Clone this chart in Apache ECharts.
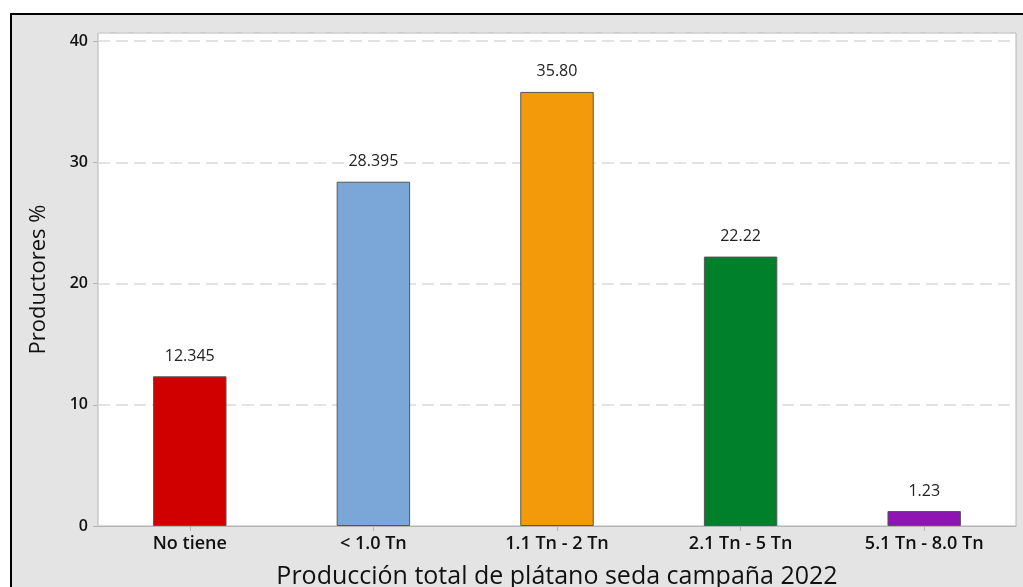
<!DOCTYPE html>
<html>
<head>
<meta charset="utf-8">
<script src="https://cdn.jsdelivr.net/npm/echarts@6/dist/echarts.min.js"></script>
<style>
html,body{margin:0;padding:0;background:#fff;overflow:hidden;}
#wrap{position:absolute;left:0;top:0;width:1023px;height:587px;overflow:hidden;}
#frame{position:absolute;left:10px;top:13px;width:1100px;height:700px;background:#e4e4e4;border:2px solid #000;}
#chart{position:absolute;left:0;top:0;width:1023px;height:587px;}
</style>
</head>
<body>
<div id="wrap">
<div id="frame"></div>
<div id="chart"></div>
</div>
<script>
const categories = ['No tiene', '< 1.0 Tn', '1.1 Tn - 2 Tn', '2.1 Tn - 5 Tn', '5.1 Tn - 8.0 Tn'];
const values = [12.345, 28.395, 35.80, 22.22, 1.23];
const valueLabels = ['12.345', '28.395', '35.80', '22.22', '1.23'];
const barColors = ['#d10000', '#7ba6d8', '#f39a0a', '#00802a', '#8e14b4'];
const yTicks = [0, 10, 20, 30, 40];

const chart = echarts.init(document.getElementById('chart'), null, {renderer: 'canvas'});
const font = '"Open Sans", "Noto Sans", sans-serif';
chart.setOption({
  backgroundColor: 'transparent',
  animation: false,
  grid: {
    left: 98, right: 7, top: 33, bottom: 61,
    containLabel: false,
    outerBoundsMode: 'none',
    show: true, backgroundColor: '#ffffff', borderColor: '#b4b4b4', borderWidth: 1
  },
  xAxis: {
    type: 'category',
    data: categories,
    axisLine: {show: true, lineStyle: {color: '#b4b4b4'}},
    axisTick: {show: true, alignWithLabel: true, length: 5, lineStyle: {color: '#b4b4b4'}},
    axisLabel: {color: '#111', fontFamily: font, fontSize: 18, fontWeight: 600, margin: 9},
    name: 'Producción total de plátano seda campaña 2022',
    nameLocation: 'middle',
    nameGap: 38,
    nameTextStyle: {color: '#111', fontFamily: font, fontSize: 25, fontWeight: 500}
  },
  yAxis: {
    type: 'value',
    min: 0,
    max: 40.66,
    interval: 10,
    axisLine: {show: false},
    axisTick: {show: true, length: 5, lineStyle: {color: '#b4b4b4'}},
    axisLabel: {
      color: '#111', fontFamily: font, fontSize: 16, fontWeight: 600, margin: 10,
      showMaxLabel: false,
      formatter: function (v) { return yTicks.indexOf(v) >= 0 ? String(v) : ''; }
    },
    splitLine: {show: true, lineStyle: {color: '#d9d9d9', type: [12, 6], width: 1.5}},
    name: 'Productores %',
    nameLocation: 'middle',
    nameGap: 48,
    nameTextStyle: {color: '#111', fontFamily: font, fontSize: 22, fontWeight: 500}
  },
  series: [{
    type: 'bar',
    data: values.map((v, i) => ({value: v, itemStyle: {color: barColors[i]}})),
    barWidth: '40%',
    itemStyle: {borderColor: '#555', borderWidth: 1},
    label: {
      show: true,
      position: 'top',
      distance: 11,
      color: '#222',
      fontFamily: font,
      fontSize: 16,
      backgroundColor: '#fff',
      padding: [1, 2],
      formatter: p => valueLabels[p.dataIndex]
    }
  }]
});
</script>
</body>
</html>
